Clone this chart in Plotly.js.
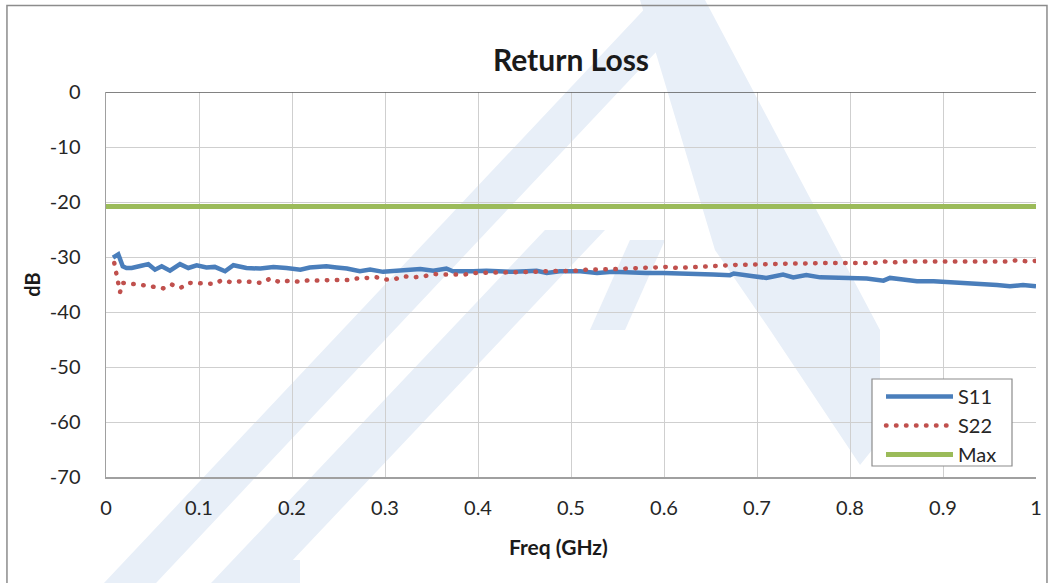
<!DOCTYPE html>
<html>
<head>
<meta charset="utf-8">
<script src="https://cdn.plot.ly/plotly-3.0.1.min.js"></script>
<style>html,body{margin:0;padding:0;background:#fff}#chart{width:1053px;height:583px}</style>
</head>
<body>
<div id="chart"></div>
<script>
// Frequency (GHz) and return loss (dB)
const s11Freq = [0.0075,0.0132,0.018,0.022,0.0276,0.033,0.038,0.0455,0.0527,0.0599,0.0688,0.0796,0.0885,0.0975,0.108,0.117,0.128,0.137,0.151,0.166,0.180,0.194,0.209,0.219,0.237,0.248,0.259,0.273,0.284,0.298,0.309,0.323,0.338,0.352,0.366,0.373,0.384,0.395,0.409,0.424,0.438,0.452,0.463,0.474,0.488,0.510,0.528,0.545,0.563,0.581,0.599,0.617,0.635,0.653,0.671,0.675,0.682,0.696,0.710,0.728,0.739,0.753,0.768,0.782,0.800,0.818,0.836,0.843,0.857,0.872,0.890,0.902,0.915,0.929,0.943,0.958,0.972,0.986,1.0];
const s11dB = [-30.1,-29.5,-31.7,-32.0,-32.0,-31.7,-31.6,-31.3,-32.3,-31.7,-32.5,-31.3,-32.0,-31.5,-31.9,-31.8,-32.6,-31.5,-32.0,-32.1,-31.8,-32.0,-32.3,-31.9,-31.7,-31.9,-32.1,-32.6,-32.3,-32.7,-32.6,-32.3,-32.2,-32.5,-32.1,-32.6,-32.7,-32.6,-32.5,-32.7,-32.7,-32.6,-32.5,-32.9,-32.6,-32.6,-32.9,-32.7,-32.9,-32.9,-32.9,-33.1,-33.1,-33.2,-33.3,-33.0,-33.1,-33.5,-33.8,-33.2,-33.7,-33.3,-33.7,-33.7,-33.9,-33.9,-34.3,-33.8,-34.1,-34.4,-34.4,-34.5,-34.7,-34.9,-34.9,-35.1,-35.3,-35.1,-35.3];

const s22Freq = [0.0089,0.0108,0.0122,0.0151,0.018,0.0258,0.0358,0.0438,0.0538,0.0616,0.0706,0.0803,0.0896,0.0982,0.1065,0.116,0.125,0.135,0.146,0.157,0.167,0.177,0.187,0.197,0.208,0.219,0.229,0.240,0.250,0.260,0.270,0.280,0.291,0.302,0.311,0.320,0.331,0.342,0.353,0.363,0.375,0.385,0.396,0.407,0.418,0.429,0.440,0.451,0.461,0.472,0.483,0.494,0.505,0.516,0.527,0.538,0.549,0.560,0.571,0.582,0.593,0.604,0.615,0.625,0.637,0.648,0.659,0.670,0.682,0.692,0.703,0.714,0.725,0.736,0.747,0.758,0.770,0.781,0.791,0.803,0.814,0.825,0.836,0.847,0.857,0.869,0.880,0.891,0.902,0.914,0.925,0.935,0.947,0.958,0.968,0.979,0.991,1.0];
const s22dB = [-31.1,-32.9,-34.7,-36.4,-34.7,-34.8,-35.1,-35.2,-35.5,-35.7,-35.0,-35.6,-34.7,-34.7,-34.7,-34.9,-34.2,-34.6,-34.4,-34.6,-34.7,-33.9,-34.6,-34.3,-34.5,-34.2,-34.3,-34.2,-34.2,-34.2,-33.9,-33.9,-33.7,-34.1,-34.0,-33.5,-33.7,-33.5,-33.1,-33.2,-33.2,-33.2,-32.9,-32.9,-32.9,-32.9,-32.7,-32.7,-32.7,-32.6,-32.6,-32.4,-32.5,-32.3,-32.3,-32.4,-32.2,-32.1,-32.0,-32.1,-31.8,-31.8,-32.0,-31.9,-31.8,-31.7,-31.5,-31.5,-31.4,-31.4,-31.3,-31.3,-31.3,-31.2,-31.2,-31.1,-31.1,-31.1,-31.1,-31.1,-30.9,-31.1,-30.8,-31.0,-30.8,-30.9,-30.8,-30.8,-30.8,-30.8,-30.7,-30.9,-30.8,-30.8,-30.8,-30.6,-30.8,-30.7];

const maxFreq = [0, 1];
const maxdB = [-20.8, -20.8];

const xTicks = [0,0.1,0.2,0.3,0.4,0.5,0.6,0.7,0.8,0.9,1];
const xTickText = ['0','0.1','0.2','0.3','0.4','0.5','0.6','0.7','0.8','0.9','1'];
const yTicks = [0,-10,-20,-30,-40,-50,-60,-70];
const yTickText = ['0','-10','-20','-30','-40','-50','-60','-70'];

const FONT = 'Lato, "Open Sans", sans-serif';
const WM = '#e8eff8';

// plot-area pixel frame, used only to place decorations (watermark, legend box)
const PL = 106, PW = 930, PB = 477, PH = 385;
const px = v => (v - PL) / PW;
const py = v => (PB - v) / PH;
function wmPath(pts) {
  return pts.map((p, i) => (i ? 'L ' : 'M ') + px(p[0]).toFixed(4) + ' ' + py(p[1]).toFixed(4)).join(' ') + ' Z';
}
const wmPolys = [
  [[88,600],[140,600],[705,0],[653,0]],
  [[195,600],[255,600],[605,230],[545,230]],
  [[590,330],[625,330],[665,240],[630,240]],
  [[640,0],[705,0],[880,330],[880,440],[860,465],[770,330],[715,250]],
  [[250,600],[300,600],[300,560],[270,560]]
];
const wmShapes = wmPolys.map(p => ({type: 'path', xref: 'paper', yref: 'paper', layer: 'below',
  line: {width: 0}, fillcolor: WM, path: wmPath(p)}));

const traces = [
  {x: s11Freq, y: s11dB, name: 'S11', type: 'scatter', mode: 'lines',
   line: {color: '#4a7ebb', width: 4.5}},
  {x: s22Freq, y: s22dB, name: 'S22', type: 'scatter', mode: 'lines',
   line: {color: '#c0504d', width: 4.5, dash: '0.5px,9.5px'}},
  {x: maxFreq, y: maxdB, name: 'Max', type: 'scatter', mode: 'lines',
   line: {color: '#9bbb59', width: 5}}
];

const layout = {
  width: 1053, height: 583,
  margin: {l: 106, r: 17, t: 92, b: 106},
  paper_bgcolor: 'rgba(0,0,0,0)', plot_bgcolor: 'rgba(0,0,0,0)',
  font: {family: FONT, color: '#262626', size: 20},
  title: {text: '<b>Return Loss</b>', font: {family: FONT, size: 30, color: '#1a1a1a'},
          x: 0.5, xref: 'paper', y: 0.897, yanchor: 'middle'},
  xaxis: {range: [0, 1], tickvals: xTicks, ticktext: xTickText,
          showgrid: true, gridcolor: '#cfcfcf', gridwidth: 1, zeroline: false,
          showline: true, linecolor: '#a0a0a0', linewidth: 1.5,
          ticks: 'outside', ticklen: 12, tickcolor: 'rgba(0,0,0,0)',
          tickfont: {size: 20, color: '#262626'}},
  yaxis: {range: [-70, 0], tickvals: yTicks, ticktext: yTickText,
          showgrid: true, gridcolor: '#cfcfcf', gridwidth: 1, zeroline: false,
          showline: true, linecolor: '#a0a0a0', linewidth: 1.5,
          ticks: 'outside', ticklen: 20, tickcolor: 'rgba(0,0,0,0)',
          tickfont: {size: 20, color: '#262626'},
          title: {text: '<b>dB</b>', font: {size: 20, color: '#1a1a1a'}, standoff: 4}},
  annotations: [
    {text: '<b>Freq (GHz)</b>', xref: 'paper', yref: 'paper', x: px(558), y: py(546),
     xanchor: 'center', yanchor: 'middle', showarrow: false,
     font: {family: FONT, size: 21, color: '#1a1a1a'}}
  ],
  legend: {x: px(881), y: py(377), xanchor: 'left', yanchor: 'top',
           bgcolor: 'rgba(0,0,0,0)', borderwidth: 0,
           font: {size: 20, color: '#262626'}, itemwidth: 67, tracegroupgap: 0},
  showlegend: true,
  shapes: wmShapes.concat([
    {type: 'line', xref: 'paper', yref: 'y', x0: 0, x1: 1, y0: 0, y1: 0,
     line: {color: '#595959', width: 1.5}},
    {type: 'rect', xref: 'paper', yref: 'paper', layer: 'above',
     x0: px(872), x1: px(1012), y0: py(466), y1: py(379),
     line: {color: '#8c8c8c', width: 1.2}, fillcolor: '#ffffff'},
    {type: 'rect', xref: 'paper', yref: 'paper', x0: -0.1065, x1: 1.0118, y0: -0.30, y1: 1.2247,
     line: {color: '#8c8c8c', width: 1.5}, fillcolor: 'rgba(0,0,0,0)'}
  ])
};

Plotly.newPlot('chart', traces, layout, {displayModeBar: false, staticPlot: true}).then(gd => {
  // round caps turn the dotted S22 line into round dots, as in the reference
  gd.querySelectorAll('path.js-line').forEach(p => {
    const d = p.style.strokeDasharray;
    if (d && d !== 'none') p.style.strokeLinecap = 'round';
  });
});
</script>
</body>
</html>
